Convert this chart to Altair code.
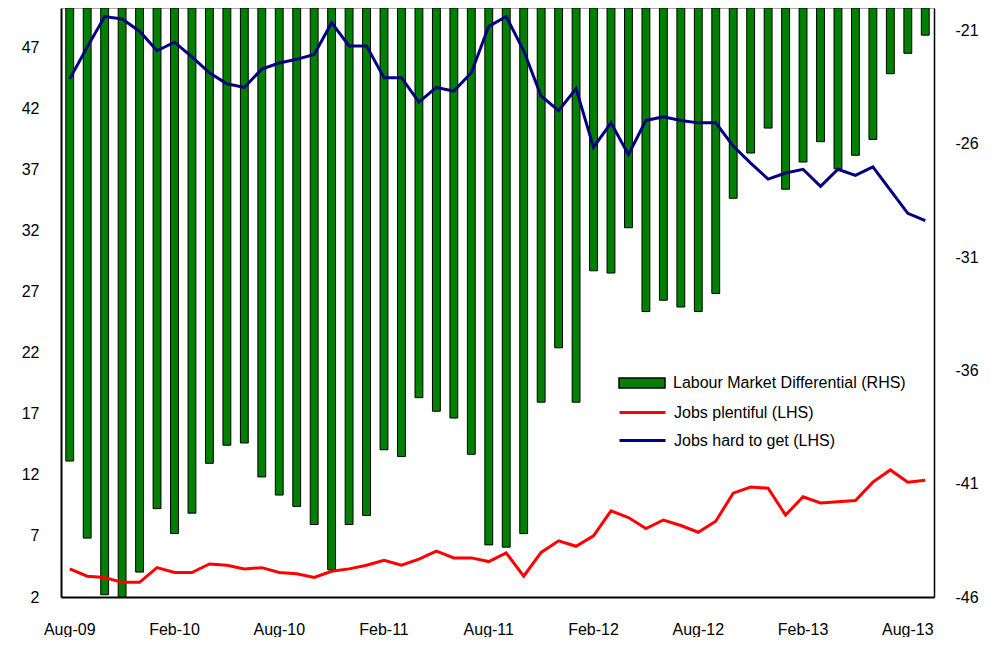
import altair as alt
import pandas as pd

months = list(pd.date_range("2009-08-01", periods=50, freq="MS").strftime("%b-%y"))

differential = [
    -40.0, -43.4, -45.9, -46.0, -44.9, -42.1, -43.2, -42.3, -40.1, -39.3,
    -39.2, -40.7, -41.5, -42.0, -42.8, -44.8, -42.8, -42.4, -39.5, -39.8,
    -37.2, -37.8, -38.1, -39.7, -43.7, -43.8, -43.2, -37.4, -35.0, -37.4,
    -31.6, -31.7, -29.7, -33.4, -32.9, -33.2, -33.4, -32.6, -28.4, -26.4,
    -25.3, -28.0, -26.8, -25.9, -27.1, -26.5, -25.8, -22.9, -22.0, -21.2,
]
plentiful = [
    4.3, 3.7, 3.6, 3.2, 3.2, 4.4, 4.0, 4.0, 4.7, 4.6,
    4.3, 4.4, 4.0, 3.9, 3.6, 4.1, 4.3, 4.6, 5.0, 4.6,
    5.1, 5.75, 5.2, 5.2, 4.9, 5.6, 3.7, 5.65, 6.6, 6.15,
    7.0, 9.05, 8.5, 7.6, 8.3, 7.85, 7.3, 8.2, 10.5, 11.0,
    10.9, 8.7, 10.2, 9.7, 9.8, 9.9, 11.4, 12.4, 11.4, 11.55,
]
hard = [
    44.4, 47.0, 49.5, 49.3, 48.3, 46.7, 47.4, 46.2, 44.9, 44.0,
    43.7, 45.2, 45.7, 46.0, 46.4, 49.0, 47.1, 47.1, 44.5, 44.5,
    42.5, 43.7, 43.4, 44.9, 48.7, 49.5, 46.7, 43.0, 41.8, 43.6,
    38.8, 40.8, 38.2, 41.0, 41.3, 41.0, 40.8, 40.8, 38.9, 37.5,
    36.2, 36.7, 37.0, 35.6, 37.0, 36.5, 37.2, 35.3, 33.4, 32.8,
]
tick_months = ["Aug-09", "Feb-10", "Aug-10", "Feb-11", "Aug-11",
               "Feb-12", "Aug-12", "Feb-13", "Aug-13"]
left_ticks = [2, 7, 12, 17, 22, 27, 32, 37, 42, 47]
right_ticks = [-46, -41, -36, -31, -26, -21]
bar_name = "Labour Market Differential  (RHS)"
line_names = ["Jobs plentiful  (LHS)", "Jobs hard  to get  (LHS)"]

FONT = "Liberation Sans"

bar_df = pd.DataFrame({"month": months, "diff": differential, "series": bar_name})
line_df = pd.DataFrame({
    "month": months * 2,
    "idx": list(range(50)) * 2,
    "value": plentiful + hard,
    "series": [line_names[0]] * 50 + [line_names[1]] * 50,
})

x_enc = alt.X(
    "month:N", sort=months,
    scale=alt.Scale(type="band", paddingInner=0.55, paddingOuter=0.275),
    axis=alt.Axis(values=tick_months, labelAngle=0, labelPadding=24,
                  domainColor="black", domainWidth=2, title=None),
)

bars = alt.Chart(bar_df).mark_bar(stroke="black", strokeWidth=1).encode(
    x=x_enc,
    y=alt.Y("diff:Q",
            scale=alt.Scale(domain=[-46, -20], nice=False, zero=False),
            axis=alt.Axis(orient="right", values=right_ticks,
                          labelExpr="'' + datum.value", labelPadding=21,
                          domainColor="black", domainWidth=1.5, title=None)),
    y2=alt.datum(-20),
    fill=alt.Fill("series:N", scale=alt.Scale(domain=[bar_name], range=["#008000"]),
                  legend=alt.Legend(title=None, orient="none", legendX=570, legendY=364,
                                    symbolType="M-2.3,-0.5H2.3V0.5H-2.3Z", symbolSize=400,
                                    symbolStrokeColor="black", symbolStrokeWidth=1.5,
                                    labelOffset=20, symbolOpacity=1, labelLimit=0)),
)

lines = alt.Chart(line_df).mark_line(strokeWidth=3).encode(
    x=x_enc,
    y=alt.Y("value:Q",
            scale=alt.Scale(domain=[2, 50.2], nice=False, zero=False),
            axis=alt.Axis(orient="left", values=left_ticks, labelPadding=22,
                          domainColor="black", domainWidth=2, title=None)),
    stroke=alt.Stroke("series:N",
                      scale=alt.Scale(domain=line_names, range=["#ff0000", "#000080"]),
                      legend=alt.Legend(title=None, orient="none", legendX=570, legendY=393,
                                        symbolType="M-2.3,0H2.3", symbolSize=400,
                                        symbolStrokeWidth=3, labelOffset=20, rowPadding=8,
                                        labelLimit=0)),
    order=alt.Order("idx:Q"),
)

chart = alt.layer(bars, lines).resolve_scale(
    y="independent"
).properties(
    width=873, height=589,
    autosize=alt.AutoSizeParams(type="none"),
    padding={"left": 53, "top": 0, "right": 55, "bottom": 40},
).configure_view(
    stroke="#a8a8a8", strokeWidth=1
).configure_axis(
    labelFont=FONT, labelFontSize=16, labelColor="black",
    grid=False, ticks=False, tickSize=0,
).configure_legend(
    labelFont=FONT, labelFontSize=16, labelColor="black",
)

chart.save("out.html", embed_options={"renderer": "svg", "actions": False})
